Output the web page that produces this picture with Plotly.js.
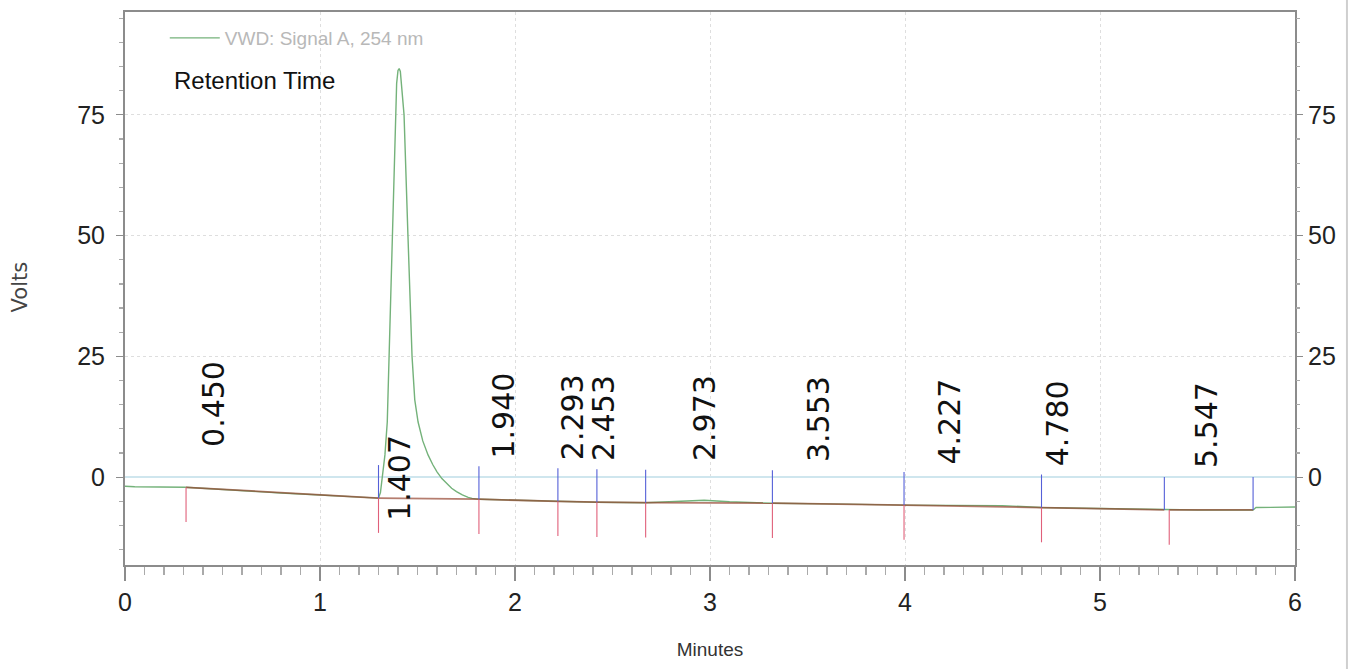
<!DOCTYPE html>
<html>
<head>
<meta charset="utf-8">
<script src="https://cdn.plot.ly/plotly-3.0.1.min.js"></script>
<style>
html,body{margin:0;padding:0;background:#fff;}
#chart{width:1353px;height:669px;}
</style>
</head>
<body>
<div id="chart"></div>
<script>
// ---- data ----
const timeMin = [0, 0.05, 0.31, 0.5, 0.8, 1.0, 1.2, 1.30, 1.31, 1.316, 1.325, 1.333, 1.345, 1.354, 1.369, 1.385, 1.393, 1.400, 1.406, 1.412, 1.420, 1.431, 1.451, 1.472, 1.486, 1.503, 1.527, 1.554, 1.578, 1.60, 1.625, 1.65, 1.675, 1.70, 1.73, 1.76, 1.78, 1.82, 2.0, 2.2, 2.42, 2.67, 2.85, 2.97, 3.1, 3.32, 3.7, 4.0, 4.5, 4.7, 5.0, 5.33, 5.5, 5.785, 5.8, 6.0];
const signalV = [-1.9, -2.0, -2.1, -2.6, -3.3, -3.7, -4.1, -4.35, -3.2, -1.3, 1.1, 4.6, 11.4, 25.0, 50.0, 75.0, 81.5, 84.2, 84.6, 84.0, 80.5, 75.0, 50.0, 25.0, 16.0, 11.4, 7.5, 4.6, 2.6, 1.1, -0.3, -1.3, -2.3, -3.0, -3.7, -4.2, -4.4, -4.6, -4.8, -5.0, -5.2, -5.3, -5.0, -4.8, -5.1, -5.4, -5.6, -5.8, -5.9, -6.3, -6.5, -6.8, -6.8, -6.8, -6.3, -6.2];
const peakRT    = [0.450, 1.407, 1.940, 2.293, 2.453, 2.973, 3.553, 4.227, 4.780, 5.547];
const peakStart = [0.313, 1.300, 1.815, 2.220, 2.420, 2.670, 3.320, 3.995, 4.700, 5.355];
const peakEnd   = [1.300, 1.815, 2.220, 2.420, 2.670, 3.320, 3.995, 4.700, 5.330, 5.785];
const xTicks = [0, 1, 2, 3, 4, 5, 6];
const yTicks = [0, 25, 50, 75];
const seriesName = 'VWD: Signal A, 254 nm';

// ---- helpers ----
function interp(t) {
  for (let i = 0; i < timeMin.length - 1; i++) {
    if (t >= timeMin[i] && t <= timeMin[i + 1]) {
      const f = (t - timeMin[i]) / (timeMin[i + 1] - timeMin[i]);
      return signalV[i] + f * (signalV[i + 1] - signalV[i]);
    }
  }
  return signalV[signalV.length - 1];
}
function baseAt(k, t) {
  const y0 = interp(peakStart[k]), y1 = interp(peakEnd[k]);
  return y0 + (t - peakStart[k]) / (peakEnd[k] - peakStart[k]) * (y1 - y0);
}

const tickLen = 7.2;
const bx = [], by = [], rx = [], ry = [], ux = [], uy = [];
peakStart.forEach((s, k) => {
  const e = peakEnd[k];
  bx.push(s, e, null); by.push(interp(s), interp(e), null);
  rx.push(s, s, null); ry.push(interp(s), interp(s) - tickLen, null);
  ux.push(e, e, null); uy.push(interp(e), interp(e) + tickLen * 0.95, null);
});

const traces = [
  {x: timeMin, y: signalV, type: 'scatter', mode: 'lines', name: seriesName,
   line: {color: '#74b27a', width: 1.4}, hoverinfo: 'x+y'},
  {x: bx, y: by, type: 'scatter', mode: 'lines', showlegend: false,
   line: {color: 'rgba(150,70,50,0.7)', width: 1.8}, hoverinfo: 'skip'},
  {x: rx, y: ry, type: 'scatter', mode: 'lines', showlegend: false,
   line: {color: '#e0607a', width: 1.1}, hoverinfo: 'skip'},
  {x: ux, y: uy, type: 'scatter', mode: 'lines', showlegend: false,
   line: {color: '#5560d8', width: 1.1}, hoverinfo: 'skip'},
  {x: timeMin, y: signalV, type: 'scatter', mode: 'lines', yaxis: 'y2', showlegend: false,
   opacity: 0, hoverinfo: 'skip', line: {width: 0}}
];

const narrow = 'Liberation Sans Narrow, Arial Narrow, Liberation Sans, sans-serif';
const annotations = peakRT.map((rt, k) => {
  const b = baseAt(k, rt);
  const tall = interp(rt) > 20;
  return {
    x: rt, y: tall ? b - 5.0 : b + 8.2, xref: 'x', yref: 'y',
    text: rt.toFixed(3), showarrow: false, textangle: -90,
    xanchor: 'center', yanchor: 'bottom',
    font: {family: 'DejaVu Sans, sans-serif', size: 30, color: '#111'}
  };
});
annotations.push({
  x: 0.040, y: 0.877, xref: 'paper', yref: 'paper', xanchor: 'left', yanchor: 'middle',
  text: 'Retention Time', showarrow: false,
  font: {family: narrow, size: 24, color: '#111'}
});
annotations.push({
  x: -0.0897, y: 0.502, xref: 'paper', yref: 'paper', xanchor: 'center', yanchor: 'middle',
  text: 'Volts', showarrow: false, textangle: -90,
  font: {family: 'DejaVu Sans, sans-serif', size: 21, color: '#444'}
});

const axisFont = {family: narrow, size: 25, color: '#222'};
const yRange = [-18.2, 96.3];

const layout = {
  width: 1353, height: 669,
  margin: {l: 125, r: 58, t: 12, b: 104, pad: 0},
  paper_bgcolor: '#fff', plot_bgcolor: '#fff',
  showlegend: true,
  legend: {x: 0.034, y: 0.953, xanchor: 'left', yanchor: 'middle', bgcolor: 'rgba(0,0,0,0)',
           itemwidth: 50,
           font: {family: narrow, size: 19, color: '#b8b8b8'}},
  xaxis: {
    range: [0, 6], tickvals: xTicks, ticktext: xTicks.map(String),
    showline: true, linecolor: '#8c8c8c', linewidth: 2, mirror: true,
    ticks: 'outside', ticklen: 14, tickwidth: 1.2, tickcolor: '#8c8c8c',
    minor: {dtick: 0.1, ticks: 'outside', ticklen: 8, tickcolor: '#aaa', showgrid: false},
    showgrid: true, gridcolor: '#dedede', griddash: 'dot', gridwidth: 1,
    zeroline: false, tickfont: axisFont,
    title: {text: 'Minutes', standoff: 28, font: {family: narrow, size: 19, color: '#333'}}
  },
  yaxis: {
    range: yRange, tickvals: yTicks, ticktext: yTicks.map(String),
    showline: true, linecolor: '#8c8c8c', linewidth: 2, mirror: true,
    ticks: 'outside', ticklen: 7, tickwidth: 1.2, tickcolor: '#8c8c8c',
    minor: {dtick: 5, ticks: 'outside', ticklen: 4, tickcolor: '#aaa', showgrid: false},
    showgrid: true, gridcolor: '#dedede', griddash: 'dot', gridwidth: 1,
    zeroline: true, zerolinecolor: '#cfe6ee', zerolinewidth: 1.5,
    tickfont: axisFont, ticklabelstandoff: 6
  },
  yaxis2: {
    range: yRange, overlaying: 'y', side: 'right', tickvals: yTicks, ticktext: yTicks.map(String),
    showline: false, ticks: 'outside', ticklen: 7, tickwidth: 1.2, tickcolor: '#8c8c8c',
    minor: {dtick: 5, ticks: 'outside', ticklen: 4, tickcolor: '#aaa', showgrid: false},
    showgrid: false, zeroline: false, tickfont: axisFont, ticklabelstandoff: 0
  },
  shapes: [
    {type: 'line', xref: 'paper', yref: 'paper', x0: 1.0444, x1: 1.0444, y0: -0.19, y1: 1.03,
     line: {color: '#cfcfcf', width: 2}}
  ],
  annotations: annotations
};

Plotly.newPlot('chart', traces, layout, {displayModeBar: false, staticPlot: true});
</script>
</body>
</html>
